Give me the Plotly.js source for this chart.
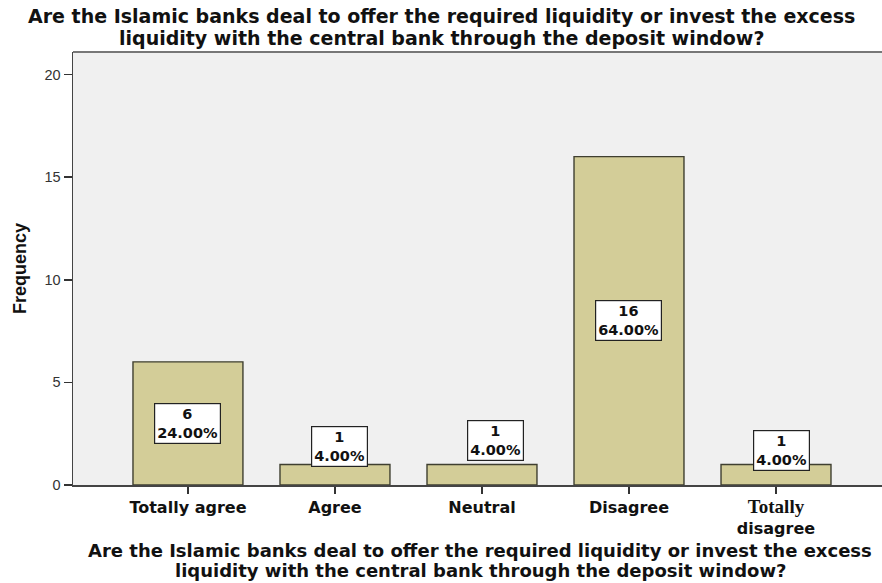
<!DOCTYPE html>
<html>
<head>
<meta charset="utf-8">
<script src="https://cdn.plot.ly/plotly-3.0.1.min.js"></script>
<style>html,body{margin:0;padding:0;background:#fff;}#chart{width:882px;height:583px;}</style>
</head>
<body>
<div id="chart"></div>
<script>
// ---- data ----
const categories = ["Totally agree", "Agree", "Neutral", "Disagree", "Totally disagree"];
const tickLabels = [
  "Totally agree",
  "Agree",
  "Neutral",
  "Disagree",
  "<span style=\"font-family:'Liberation Serif','DejaVu Serif',serif;font-size:19px\">Totally</span><br>disagree"
];
const frequencies = [6, 1, 1, 16, 1];
const percents = ["24.00%", "4.00%", "4.00%", "64.00%", "4.00%"];
const titleLines = [
  "Are the Islamic banks deal to offer the required liquidity or invest the excess",
  "liquidity with the central bank through the deposit window?"
];
const yTitle = "Frequency";

// ---- style (positions of label boxes and text lines) ----
const labelY = [null, 1.9, 2.15, null, 1.7];
const labelXShift = [0, 5, 14, 0, 5];
const titleLineY = [16, 37.5];     // px from top of page
const xTitleLineY = [550.5, 570.5];  // px from top of page

const idx = categories.map((_, i) => i);
const H = 583, T = 52, B = 98, PH = H - T - B;
const pyToPaper = py => (H - B - py) / PH;

const trace = {
  type: 'bar',
  x: idx,
  y: frequencies,
  width: 0.748,
  marker: {color: '#d3cd98', line: {color: '#3f3f30', width: 1.4}},
  hoverinfo: 'none'
};

const annotations = idx.map(i => ({
  x: i,
  y: labelY[i] === null ? frequencies[i] / 2 : labelY[i],
  xref: 'x', yref: 'y',
  text: frequencies[i] + '<br>' + percents[i],
  showarrow: false,
  xshift: labelXShift[i],
  bgcolor: '#ffffff',
  bordercolor: '#222222',
  borderwidth: 1.2,
  borderpad: 2,
  font: {family: 'DejaVu Sans, Verdana, sans-serif', size: 14.5, color: '#111', weight: 'bold'},
  align: 'center'
}));

titleLines.forEach((line, k) => {
  annotations.push({
    text: line,
    xref: 'paper', yref: 'paper',
    x: (441 - 73) / 809, y: pyToPaper(titleLineY[k]),
    xanchor: 'center', yanchor: 'middle',
    showarrow: false,
    font: {family: 'DejaVu Sans, Verdana, sans-serif', size: 19, color: '#111', weight: 'bold'}
  });
  annotations.push({
    text: line,
    xref: 'paper', yref: 'paper',
    x: (480 - 73) / 809, y: pyToPaper(xTitleLineY[k]),
    xanchor: 'center', yanchor: 'middle',
    showarrow: false,
    font: {family: 'DejaVu Sans, Verdana, sans-serif', size: 18, color: '#111', weight: 'bold'}
  });
});

const layout = {
  width: 882, height: 583,
  margin: {l: 73, r: 0, t: T, b: B},
  paper_bgcolor: '#ffffff',
  plot_bgcolor: '#f0f0f0',
  showlegend: false,
  bargap: 0,
  xaxis: {
    range: [-0.782, 4.721],
    tickmode: 'array',
    tickvals: idx,
    ticktext: tickLabels,
    ticks: 'outside', ticklen: 7, tickcolor: '#333', tickwidth: 1.5,
    showline: true, linecolor: '#444', linewidth: 1.5,
    showgrid: false, zeroline: false,
    tickfont: {family: 'DejaVu Sans, Verdana, sans-serif', size: 16, color: '#111', weight: 'bold'},
    automargin: false,
    fixedrange: true
  },
  yaxis: {
    range: [0, 21.1],
    tickvals: [0, 5, 10, 15, 20],
    ticks: 'outside', ticklen: 8, tickcolor: '#333', tickwidth: 1.5,
    showline: true, linecolor: '#444', linewidth: 1.5,
    showgrid: false, zeroline: false,
    tickfont: {family: 'Liberation Sans, Arial, sans-serif', size: 14.5, color: '#333'},
    title: {
      text: yTitle,
      font: {family: 'Liberation Sans, Arial, sans-serif', size: 18, color: '#111', weight: 'bold'},
      standoff: 13
    },
    automargin: false,
    fixedrange: true
  },
  shapes: [{
    type: 'line', xref: 'paper', yref: 'paper', x0: 0, x1: 1, y0: 1, y1: 1,
    line: {color: '#777', width: 2}
  }],
  annotations: annotations
};

Plotly.newPlot('chart', [trace], layout, {displayModeBar: false, staticPlot: true});
</script>
</body>
</html>
